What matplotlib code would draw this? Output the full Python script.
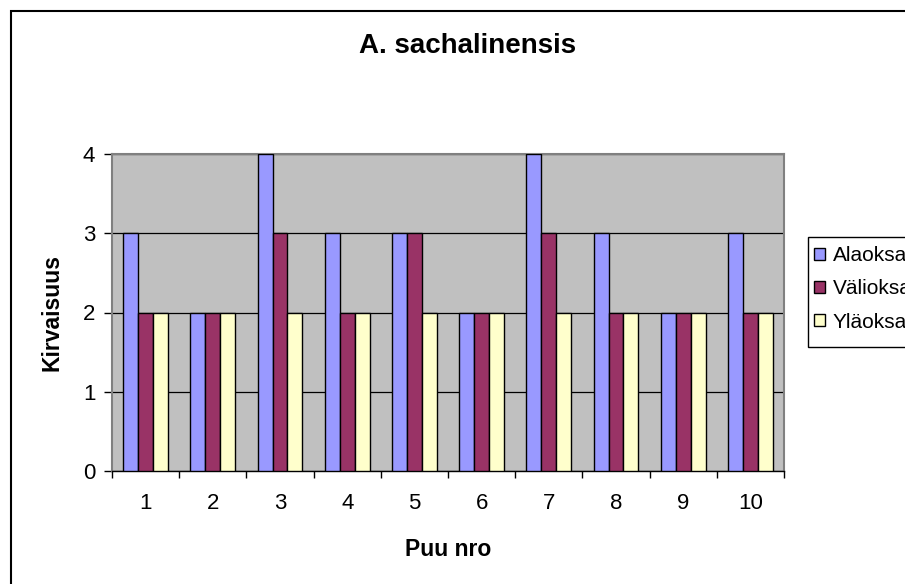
import numpy as np
import matplotlib.pyplot as plt
from matplotlib.patches import Rectangle

puut = [1, 2, 3, 4, 5, 6, 7, 8, 9, 10]
alaoksa = [3, 2, 4, 3, 3, 2, 4, 3, 2, 3]
valioksa = [2, 2, 3, 2, 3, 2, 3, 2, 2, 2]
ylaoksa = [2, 2, 2, 2, 2, 2, 2, 2, 2, 2]
sarjat = ['Alaoksa', 'Välioksa', 'Yläoksa']
varit = ['#9999FF', '#993366', '#FFFFCC']

plt.rcParams['font.family'] = ['Liberation Sans', 'DejaVu Sans']

fig = plt.figure(figsize=(9.05, 5.84), dpi=100)
ax = fig.add_axes([112 / 905, 1 - 471 / 584, 672 / 905, 317 / 584])
ax.set_facecolor('#C0C0C0')

x = np.array(puut)
w = 1 / 4.5
for i, (arvot, nimi, c) in enumerate(zip([alaoksa, valioksa, ylaoksa], sarjat, varit)):
    ax.bar(x + (i - 1) * w, arvot, width=w, color=c, edgecolor='black',
           linewidth=1.0, label=nimi, zorder=3)

ax.set_xlim(0.5, 10.5)
ax.set_ylim(0, 4)
ax.set_yticks([0, 1, 2, 3, 4])
ax.yaxis.grid(True, color='black', linewidth=0.9, zorder=1)
ax.set_axisbelow(True)

ax.set_xticks(np.arange(0.5, 11, 1))
ax.set_xticklabels([])
ax.set_xticks(x, minor=True)
ax.set_xticklabels([str(p) for p in puut], minor=True)
ax.tick_params(axis='x', which='major', length=5, width=1, direction='out')
ax.tick_params(axis='x', which='minor', length=0, pad=16, labelsize=16)
ax.tick_params(axis='y', length=6, width=1, direction='out', pad=6, labelsize=16)

for s in ['top', 'right', 'left']:
    ax.spines[s].set_color('#808080')
    ax.spines[s].set_linewidth(1.5)
ax.spines['bottom'].set_color('black')
ax.spines['bottom'].set_linewidth(1.0)

ax.set_xlabel('Puu nro', fontsize=16.5, fontweight='bold', labelpad=17)
ax.set_ylabel('Kirvaisuus', fontsize=16.5, fontweight='bold', labelpad=14)
fig.text(468 / 905, 1 - 46 / 584, 'A. sachalinensis', fontsize=20, fontweight='bold',
         ha='center', va='center')

# legend frame drawn separately so its padding matches the original
fig.patches.append(Rectangle((808 / 905, 1 - 347 / 584), 0.5, 110 / 584,
                             transform=fig.transFigure, fill=True, facecolor='white',
                             edgecolor='black', linewidth=1.0))
h, l = ax.get_legend_handles_labels()
leg = fig.legend(h, l, loc='upper left', bbox_to_anchor=(808 / 905, 1 - 240 / 584),
                 fontsize=15, frameon=False,
                 handlelength=0.5, handleheight=0.5, handletextpad=0.4,
                 labelspacing=0.68, borderpad=0.3, borderaxespad=0)

fig.patches.append(Rectangle((11 / 905, -0.1), 1.2, 1.1 - 11 / 584, transform=fig.transFigure,
                             fill=False, edgecolor='black', linewidth=1.5))

fig.savefig('out.png', dpi=100)
